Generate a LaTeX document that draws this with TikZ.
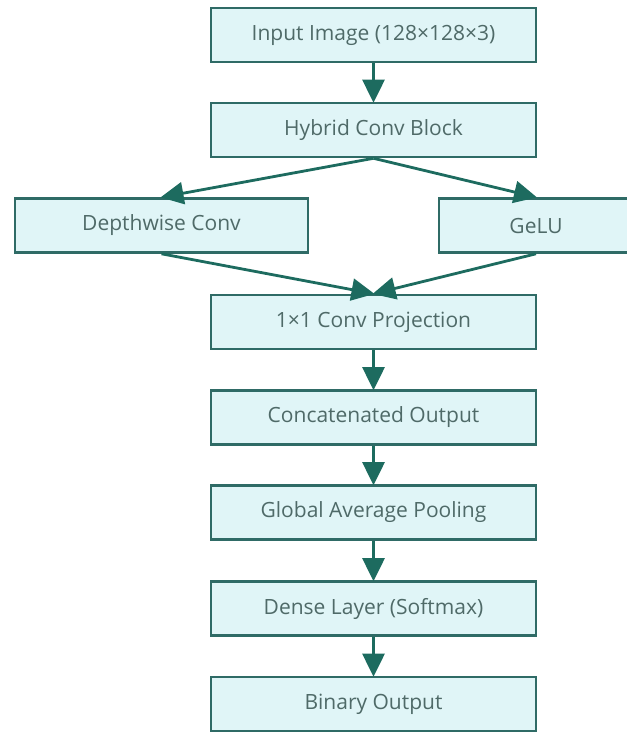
\documentclass[tikz,border=0pt]{standalone}
\usepackage{fontspec}
\setmainfont{Open Sans}
\usetikzlibrary{arrows.meta}
\definecolor{boxfill}{HTML}{E0F5F7}
\definecolor{boxline}{HTML}{2F6B66}
\definecolor{txt}{HTML}{4F6A68}
\definecolor{arr}{HTML}{1D6B5F}
\tikzset{
  box/.style={draw=boxline, fill=boxfill, line width=2.6pt, minimum height=54pt, inner sep=0pt,
    text=txt, font=\fontsize{21pt}{24pt}\selectfont},
  mainbox/.style={box, minimum width=325pt},
  conn/.style={draw=arr, line width=2.8pt, -{Triangle[length=23pt,width=22pt]}, shorten >=-1pt}
}
\begin{document}
\begin{tikzpicture}[x=1pt,y=-1pt]
\useasboundingbox (0,0) rectangle (626,733);
\node[mainbox] (in) at (373.5,35) {Input Image (128×128×3)};
\node[mainbox] (hyb) at (373.5,130) {Hybrid Conv Block};
\node[box, minimum width=293pt] (dw) at (161.5,225.5) {Depthwise Conv};
\node[box, minimum width=194pt] (gelu) at (536,225.5) {GeLU};
\node[mainbox] (proj) at (373.5,322) {1×1 Conv Projection};
\node[mainbox] (cat) at (373.5,417.5) {Concatenated Output};
\node[mainbox] (gap) at (373.5,512.5) {Global Average Pooling};
\node[mainbox] (dense) at (373.5,608.5) {Dense Layer (Softmax)};
\node[mainbox] (out) at (373.5,704) {Binary Output};
\draw[conn] (in) -- (hyb);
\draw[conn] (hyb.south) -- (dw.north);
\draw[conn] (hyb.south) -- (gelu.north);
\draw[conn] (dw.south) -- (proj.north);
\draw[conn] (gelu.south) -- (proj.north);
\draw[conn] (proj) -- (cat);
\draw[conn] (cat) -- (gap);
\draw[conn] (gap) -- (dense);
\draw[conn] (dense) -- (out);
\end{tikzpicture}
\end{document}
